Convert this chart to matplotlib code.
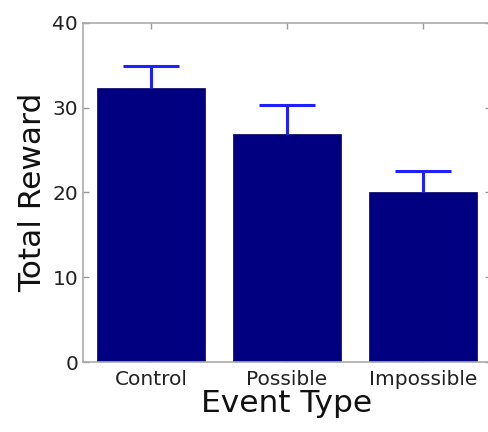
import numpy as np
import matplotlib
matplotlib.use("Agg")
import matplotlib.pyplot as plt

# data
categories = ["Control", "Possible", "Impossible"]
totals = [32.3, 26.9, 20.0]
errors = [2.6, 3.4, 2.5]

def main():
    plt.rcParams["font.family"] = ["DejaVu Sans"]
    fig = plt.figure(figsize=(4.88, 4.32), dpi=100)
    ax = fig.add_axes([0.170, 0.162, 0.836, 0.785])

    x = np.arange(1, len(categories) + 1)
    ax.bar(x, totals, width=0.8, color="#000080", edgecolor="#000060", linewidth=0.5, zorder=2)
    eb = ax.errorbar(x, totals, yerr=[np.zeros(len(errors)), errors], fmt="none",
                     ecolor="#1f1fff", elinewidth=2.2, capsize=20, capthick=2.2, zorder=3)
    # only the upper cap is shown
    eb[1][0].set_visible(False)

    ax.set_xlim(0.5, 3.5)
    ax.set_ylim(0, 40)
    ax.set_xticks(x)
    ax.set_xticklabels(categories, fontsize=14.5)
    ax.set_yticks([0, 10, 20, 30, 40])
    ax.tick_params(direction="in", length=4, width=1, top=True, right=True, colors="#999999")
    ax.tick_params(axis="y", labelsize=14.5, labelcolor="#222222")
    ax.tick_params(axis="x", labelcolor="#222222", pad=6)
    for s in ax.spines.values():
        s.set_color("#aaaaaa")
        s.set_linewidth(1.2)

    ax.set_xlabel("Event Type", fontsize=22.5, labelpad=0, color="#111111")
    ax.set_ylabel("Total Reward", fontsize=22.5, labelpad=4, color="#111111")

    fig.savefig("out.png", dpi=100)

if __name__ == "__main__":
    main()
